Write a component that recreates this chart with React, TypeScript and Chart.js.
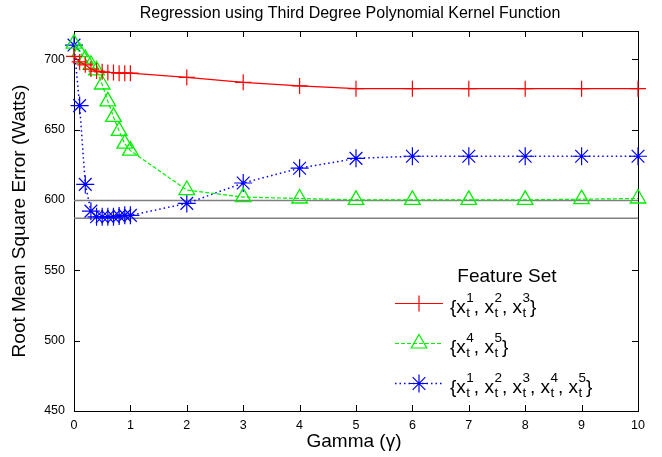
import React, { useEffect, useRef } from 'react';
import { Chart, registerables } from 'chart.js';

Chart.register(...registerables);

const gammaValues = [0, 0.1, 0.2, 0.3, 0.4, 0.5, 0.6, 0.7, 0.8, 0.9, 1, 2, 3, 4, 5, 6, 7, 8, 9, 10];
const rmseSet123 = [702, 698, 696, 693, 691.5, 691, 690.5, 690.5, 690, 690, 690, 687, 683.5, 681, 679, 679, 679, 679, 679, 679];
const rmseSet45 = [711, 705, 700, 696, 692, 682, 670, 659, 649, 640, 635, 607, 602, 601, 600, 600, 600, 600, 600.5, 601];
const rmseSet12345 = [710, 667, 611, 592, 588, 588, 588, 588, 588.5, 589, 589, 597.5, 612, 622.5, 629.5, 631, 631, 631, 631, 631];
const referenceLevels = [599.5, 587];
const xTicks = [0, 1, 2, 3, 4, 5, 6, 7, 8, 9, 10];
const yTicks = [450, 500, 550, 600, 650, 700];
const seriesNames = ['{x_t^1, x_t^2, x_t^3}', '{x_t^4, x_t^5}', '{x_t^1, x_t^2, x_t^3, x_t^4, x_t^5}'];
const seriesPowers = [[1, 2, 3], [4, 5], [1, 2, 3, 4, 5]];

const TITLE = 'Regression using Third Degree Polynomial Kernel Function';
const X_TITLE = 'Gamma (\u03b3)';
const Y_TITLE = 'Root Mean Square Error (Watts)';
const LEGEND_TITLE = 'Feature Set';
const FONT = '"Liberation Sans", Arial, Helvetica, sans-serif';

const RED = '#ff0000';
const GREEN = '#00f000';
const BLUE = '#0000ff';

function drawMarker(ctx: CanvasRenderingContext2D, style: string, x: number, y: number, r: number, color: string) {
  ctx.save();
  ctx.strokeStyle = color;
  ctx.lineWidth = 1.2;
  ctx.setLineDash([]);
  ctx.beginPath();
  if (style === 'cross') {
    ctx.moveTo(x - r, y); ctx.lineTo(x + r, y);
    ctx.moveTo(x, y - r); ctx.lineTo(x, y + r);
  } else if (style === 'triangle') {
    for (let i = 0; i < 3; i++) {
      const a = (i * 2 * Math.PI) / 3;
      const px = x + Math.sin(a) * r;
      const py = y - Math.cos(a) * r;
      if (i === 0) ctx.moveTo(px, py); else ctx.lineTo(px, py);
    }
    ctx.closePath();
  } else {
    const d = r * Math.SQRT1_2;
    ctx.moveTo(x - r, y); ctx.lineTo(x + r, y);
    ctx.moveTo(x, y - r); ctx.lineTo(x, y + r);
    ctx.moveTo(x - d, y - d); ctx.lineTo(x + d, y + d);
    ctx.moveTo(x - d, y + d); ctx.lineTo(x + d, y - d);
  }
  ctx.stroke();
  ctx.restore();
}

function drawSetLabel(ctx: CanvasRenderingContext2D, x: number, y: number, powers: number[]) {
  const main = '19px ' + FONT;
  const small = '13.5px ' + FONT;
  let cx = x;
  ctx.textAlign = 'left';
  ctx.textBaseline = 'alphabetic';
  ctx.fillStyle = '#000';
  ctx.font = main;
  ctx.fillText('{', cx, y + 10);
  cx += ctx.measureText('{').width;
  powers.forEach((p, i) => {
    ctx.font = main;
    if (i > 0) {
      ctx.fillText(', ', cx, y + 10);
      cx += ctx.measureText(', ').width;
    }
    ctx.fillText('x', cx, y + 10);
    cx += ctx.measureText('x').width + 0.5;
    ctx.font = small;
    ctx.fillText('t', cx, y + 14);
    ctx.fillText(String(p), cx, y - 1.5);
    cx += Math.max(ctx.measureText('t').width, ctx.measureText(String(p)).width);
  });
  ctx.font = main;
  ctx.fillText('}', cx, y + 10);
}

const decorPlugin = {
  id: 'decor',
  beforeDatasetsDraw(chart: any) {
    const { ctx, chartArea: a, scales } = chart;
    ctx.save();
    ctx.strokeStyle = '#000';
    ctx.lineWidth = 1;
    ctx.strokeRect(a.left + 0.5, a.top + 0.5, a.right - a.left, a.bottom - a.top);
    const tl = 6;
    ctx.beginPath();
    xTicks.forEach((v) => {
      const px = Math.round(scales.x.getPixelForValue(v)) + 0.5;
      ctx.moveTo(px, a.bottom); ctx.lineTo(px, a.bottom - tl);
      ctx.moveTo(px, a.top); ctx.lineTo(px, a.top + tl);
    });
    yTicks.forEach((v) => {
      const py = Math.round(scales.y.getPixelForValue(v)) + 0.5;
      ctx.moveTo(a.left, py); ctx.lineTo(a.left + tl, py);
      ctx.moveTo(a.right, py); ctx.lineTo(a.right - tl, py);
    });
    ctx.stroke();
    ctx.restore();
  },
  afterDraw(chart: any) {
    const { ctx, chartArea: a } = chart;
    ctx.save();
    ctx.fillStyle = '#000';
    ctx.textAlign = 'center';
    ctx.textBaseline = 'middle';
    ctx.font = '16px ' + FONT;
    ctx.fillText(TITLE, 350, 14);
    ctx.font = '19px ' + FONT;
    ctx.fillText(X_TITLE, (a.left + a.right) / 2 - 2, 442);
    ctx.save();
    ctx.translate(20, (a.top + a.bottom) / 2);
    ctx.rotate(-Math.PI / 2);
    ctx.fillText(Y_TITLE, 0, 0);
    ctx.restore();

    // legend
    ctx.font = '19px ' + FONT;
    ctx.fillText(LEGEND_TITLE, 507, 277);
    const rows = [303, 343, 383];
    const ds = chart.data.datasets;
    rows.forEach((ry, i) => {
      const d = ds[i];
      ctx.save();
      ctx.strokeStyle = d.borderColor;
      ctx.lineWidth = d.borderWidth;
      ctx.setLineDash(d.borderDash || []);
      ctx.beginPath();
      ctx.moveTo(395, ry + 0.5);
      ctx.lineTo(443, ry + 0.5);
      ctx.stroke();
      ctx.restore();
      drawMarker(ctx, d.pointStyle, 419, ry + 0.5, d.pointRadius, d.borderColor);
      drawSetLabel(ctx, 450, ry, seriesPowers[i]);
    });
    ctx.restore();
  },
};

function toPoints(values: number[]) {
  return gammaValues.map((g, i) => ({ x: g, y: values[i] }));
}

export default function App() {
  const ref = useRef<HTMLCanvasElement>(null);
  useEffect(() => {
    if (!ref.current) return;
    const chart = new Chart(ref.current, {
      type: 'line',
      data: {
        datasets: [
          {
            label: seriesNames[0],
            data: toPoints(rmseSet123),
            borderColor: RED,
            backgroundColor: 'transparent',
            borderWidth: 1.2,
            pointStyle: 'cross',
            pointRadius: 8,
            pointBorderWidth: 1.2,
            pointBorderColor: RED,
            clip: false,
          },
          {
            label: seriesNames[1],
            data: toPoints(rmseSet45),
            borderColor: GREEN,
            backgroundColor: 'transparent',
            borderWidth: 1.2,
            borderDash: [4, 2],
            pointStyle: 'triangle',
            pointRadius: 9,
            pointBorderWidth: 1.3,
            pointBorderColor: GREEN,
            pointBackgroundColor: 'transparent',
            clip: false,
          },
          {
            label: seriesNames[2],
            data: toPoints(rmseSet12345),
            borderColor: BLUE,
            backgroundColor: 'transparent',
            borderWidth: 1.5,
            borderDash: [1.5, 3],
            pointStyle: 'star',
            pointRadius: 9,
            pointBorderWidth: 1.2,
            pointBorderColor: BLUE,
            clip: false,
          },
          ...referenceLevels.map((lv) => ({
            label: 'ref ' + lv,
            data: [{ x: 0, y: lv }, { x: 10, y: lv }],
            borderColor: '#808080',
            backgroundColor: 'transparent',
            borderWidth: 1.5,
            pointRadius: 0,
            clip: false,
          })),
        ],
      },
      options: {
        animation: false,
        responsive: false,
        layout: { padding: { left: 0, top: 31, right: 24, bottom: 0 } },
        plugins: { legend: { display: false }, tooltip: { enabled: false }, title: { display: false } },
        scales: {
          x: {
            type: 'linear',
            min: 0,
            max: 10,
            grid: { display: false, drawTicks: false },
            border: { display: false },
            afterFit: (s: any) => { s.height = 46; },
            afterBuildTicks: (s: any) => { s.ticks = xTicks.map((v) => ({ value: v })); },
            ticks: { padding: 7, color: '#000', font: { family: FONT, size: 12.5 }, maxRotation: 0, autoSkip: false },
          },
          y: {
            type: 'linear',
            min: 450,
            max: 720,
            grid: { display: false, drawTicks: false },
            border: { display: false },
            afterFit: (s: any) => { s.width = 74; },
            afterBuildTicks: (s: any) => { s.ticks = yTicks.map((v) => ({ value: v })); },
            ticks: { padding: 9, color: '#000', font: { family: FONT, size: 12.5 }, autoSkip: false },
          },
        },
      },
      plugins: [decorPlugin],
    } as any);
    return () => chart.destroy();
  }, []);
  return (
    <div style={{ position: 'absolute', left: 0, top: 0, width: 662, height: 457, background: '#fff' }}>
      <canvas ref={ref} width={662} height={457} style={{ display: 'block' }} />
    </div>
  );
}
